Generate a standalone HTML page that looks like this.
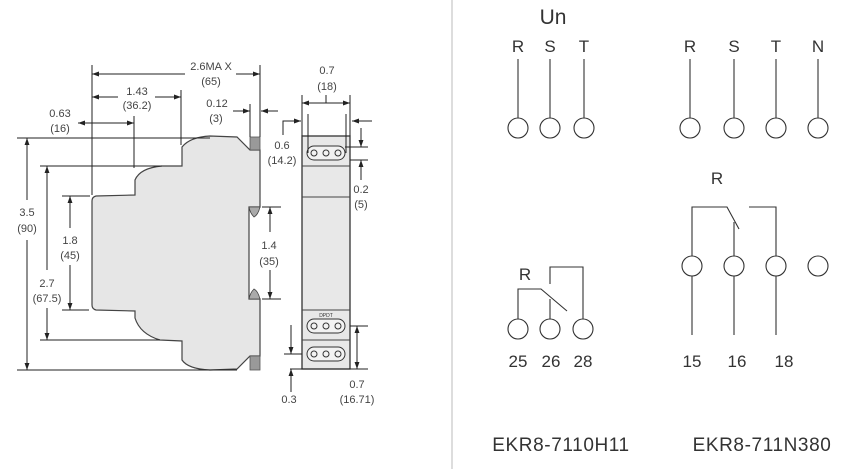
<!DOCTYPE html>
<html><head><style>
html,body{margin:0;padding:0;background:#fff;}
svg{display:block;}
.d{font-family:"Liberation Sans",sans-serif;font-size:11px;fill:#444;text-anchor:middle;}
.b{font-family:"Liberation Sans",sans-serif;fill:#333;text-anchor:middle;}
</style></head><body>
<svg width="858" height="469" viewBox="0 0 858 469" xmlns="http://www.w3.org/2000/svg">
<defs>
<marker id="a" viewBox="0 0 10 10" refX="10" refY="5" markerWidth="7" markerHeight="7" orient="auto-start-reverse"><path d="M0,1.5 L10,5 L0,8.5 z" fill="#222"/></marker>
</defs>
<path d="M96,196 L135,195 L135,180 Q140,168 162,166 L182,166 L182,147 Q190,137 210,136 L237,137 L250,150 L260,150 L260,207 L249,207 L249,299 L260,299 L260,356 L250,356 L237,369 L210,370 Q188,369 182,360 L182,341 L160,340 Q140,334 135,318 L135,311 L96,310 Q92,309 92,305 L92,201 Q92,197 96,196 z" fill="#e6e6e6" stroke="#444" stroke-width="1.2"/>
<rect x="250" y="137" width="10" height="13" fill="#999" stroke="#555" stroke-width="0.8"/>
<rect x="250" y="356" width="10" height="14" fill="#999" stroke="#555" stroke-width="0.8"/>
<path d="M249,207 L260,207 Q258,215 254,217 Q250,213 249,207z" fill="#aaa" stroke="#444" stroke-width="0.8"/>
<path d="M249,299 L260,299 Q258,291 254,289 Q250,293 249,299z" fill="#aaa" stroke="#444" stroke-width="0.8"/>
<g stroke="#222" stroke-width="1" fill="none">
<line x1="92" y1="65" x2="92" y2="195"/>
<line x1="260" y1="65" x2="260" y2="137"/>
<line x1="181" y1="90" x2="181" y2="145"/>
<line x1="134" y1="116" x2="134" y2="168"/>
<line x1="250" y1="104" x2="250" y2="137"/>
<line x1="92" y1="74" x2="185" y2="74" marker-start="url(#a)"/>
<line x1="236" y1="74" x2="260" y2="74" marker-end="url(#a)"/>
<line x1="92" y1="97" x2="118" y2="97" marker-start="url(#a)"/>
<line x1="155" y1="97" x2="181" y2="97" marker-end="url(#a)"/>
<line x1="78" y1="123" x2="134" y2="123" marker-start="url(#a)" marker-end="url(#a)"/>
<line x1="233" y1="111" x2="250" y2="111" marker-end="url(#a)"/>
<line x1="278" y1="111" x2="261" y2="111" marker-end="url(#a)"/>
<line x1="17" y1="138" x2="210" y2="138"/>
<line x1="17" y1="370" x2="237" y2="370"/>
<line x1="40" y1="166" x2="162" y2="166"/>
<line x1="40" y1="340" x2="160" y2="340"/>
<line x1="62" y1="196" x2="90" y2="196"/>
<line x1="62" y1="310" x2="89" y2="310"/>
<line x1="27" y1="138" x2="27" y2="200" marker-start="url(#a)"/>
<line x1="27" y1="240" x2="27" y2="370" marker-end="url(#a)"/>
<line x1="47" y1="166" x2="47" y2="270" marker-start="url(#a)"/>
<line x1="47" y1="308" x2="47" y2="340" marker-end="url(#a)"/>
<line x1="70" y1="196" x2="70" y2="228" marker-start="url(#a)"/>
<line x1="70" y1="265" x2="70" y2="310" marker-end="url(#a)"/>
<line x1="262" y1="207" x2="281" y2="207"/>
<line x1="262" y1="299" x2="281" y2="299"/>
<line x1="270" y1="207" x2="270" y2="232" marker-start="url(#a)"/>
<line x1="270" y1="270" x2="270" y2="299" marker-end="url(#a)"/>
</g>
<text class="d" x="211" y="70">2.6MA X</text><text class="d" x="211" y="85">(65)</text>
<text class="d" x="137" y="95">1.43</text><text class="d" x="137" y="109">(36.2)</text>
<text class="d" x="60" y="117">0.63</text><text class="d" x="60" y="132">(16)</text>
<text class="d" x="217" y="107">0.12</text><text class="d" x="216" y="122">(3)</text>
<text class="d" x="27" y="216">3.5</text><text class="d" x="27" y="232">(90)</text>
<text class="d" x="47" y="287">2.7</text><text class="d" x="47" y="302">(67.5)</text>
<text class="d" x="70" y="244">1.8</text><text class="d" x="70" y="259">(45)</text>
<text class="d" x="269" y="249">1.4</text><text class="d" x="269" y="265">(35)</text>
<rect x="302" y="136" width="48" height="233" fill="#e8e8e8" stroke="#333" stroke-width="1.3"/>
<g stroke="#444" stroke-width="1"><line x1="302" y1="166" x2="350" y2="166"/><line x1="302" y1="197" x2="350" y2="197"/><line x1="302" y1="310" x2="350" y2="310"/><line x1="302" y1="340" x2="350" y2="340"/></g>
<g fill="#f2f2f2" stroke="#333" stroke-width="1">
<rect x="307" y="146" width="38" height="14" rx="7"/><rect x="307" y="319" width="38" height="14" rx="7"/><rect x="307" y="347" width="38" height="14" rx="7"/>
</g>
<g fill="none" stroke="#333" stroke-width="1">
<circle cx="314" cy="153" r="3"/><circle cx="326" cy="153" r="3"/><circle cx="338" cy="153" r="3"/>
<circle cx="314" cy="326" r="3"/><circle cx="326" cy="326" r="3"/><circle cx="338" cy="326" r="3"/>
<circle cx="314" cy="354" r="3"/><circle cx="326" cy="354" r="3"/><circle cx="338" cy="354" r="3"/>
</g>
<text x="326" y="317" font-family="Liberation Sans,sans-serif" font-size="5" text-anchor="middle" fill="#333">DPDT</text>
<g stroke="#222" stroke-width="1" fill="none">
<line x1="302" y1="95" x2="302" y2="136"/><line x1="350" y1="95" x2="350" y2="136"/>
<line x1="308" y1="114" x2="308" y2="153"/><line x1="346" y1="114" x2="346" y2="153"/>
<line x1="302" y1="103" x2="350" y2="103" marker-start="url(#a)" marker-end="url(#a)"/>
<line x1="326" y1="95" x2="326" y2="103"/>
<polyline points="283,135 283,121 301,121" marker-end="url(#a)"/>
<line x1="372" y1="121" x2="352" y2="121" marker-end="url(#a)"/>
<line x1="345" y1="147" x2="368" y2="147"/><line x1="350" y1="160" x2="368" y2="160"/>
<line x1="361" y1="128" x2="361" y2="147" marker-end="url(#a)"/>
<line x1="361" y1="180" x2="361" y2="160" marker-end="url(#a)"/>
<line x1="350" y1="326" x2="368" y2="326"/>
<line x1="290" y1="369" x2="368" y2="369"/>
<line x1="357" y1="326" x2="357" y2="369" marker-start="url(#a)" marker-end="url(#a)"/>
<line x1="284" y1="354" x2="302" y2="354"/>
<line x1="291" y1="325" x2="291" y2="354" marker-end="url(#a)"/>
<line x1="291" y1="392" x2="291" y2="369" marker-end="url(#a)"/>
</g>
<text class="d" x="327" y="74">0.7</text><text class="d" x="327" y="90">(18)</text>
<text class="d" x="282" y="149">0.6</text><text class="d" x="282" y="164">(14.2)</text>
<text class="d" x="361" y="193">0.2</text><text class="d" x="361" y="208">(5)</text>
<text class="d" x="357" y="388">0.7</text><text class="d" x="357" y="403">(16.71)</text>
<text class="d" x="289" y="403">0.3</text>
<line x1="452" y1="0" x2="452" y2="469" stroke="#bbb" stroke-width="1"/>
<text class="b" x="553" y="24" font-size="21">Un</text>
<g class="b" font-size="17">
<text x="518" y="52">R</text><text x="550" y="52">S</text><text x="584" y="52">T</text>
<text x="690" y="52">R</text><text x="734" y="52">S</text><text x="776" y="52">T</text><text x="818" y="52">N</text>
<text x="717" y="184">R</text><text x="525" y="280">R</text>
<text x="518" y="367">25</text><text x="551" y="367">26</text><text x="583" y="367">28</text>
<text x="692" y="367">15</text><text x="737" y="367">16</text><text x="784" y="367">18</text>
</g>
<g stroke="#333" stroke-width="1.1" fill="none">
<line x1="518" y1="59" x2="518" y2="118"/><line x1="550" y1="59" x2="550" y2="118"/><line x1="584" y1="59" x2="584" y2="118"/>
<line x1="690" y1="59" x2="690" y2="118"/><line x1="734" y1="59" x2="734" y2="118"/><line x1="776" y1="59" x2="776" y2="118"/><line x1="818" y1="59" x2="818" y2="118"/>
<circle cx="518" cy="128" r="10"/><circle cx="550" cy="128" r="10"/><circle cx="584" cy="128" r="10"/>
<circle cx="690" cy="128" r="10"/><circle cx="734" cy="128" r="10"/><circle cx="776" cy="128" r="10"/><circle cx="818" cy="128" r="10"/>
<polyline points="518,319 518,289 541,289 567,311"/>
<polyline points="550,284 550,267 583,267 583,319"/>
<line x1="550" y1="299" x2="550" y2="319"/>
<circle cx="518" cy="329" r="10"/><circle cx="550" cy="329" r="10"/><circle cx="583" cy="329" r="10"/>
<polyline points="692,256 692,207 727,207 739,229"/>
<line x1="734" y1="222" x2="734" y2="256"/>
<polyline points="749,207 776,207 776,256"/>
<circle cx="692" cy="266" r="10"/><circle cx="734" cy="266" r="10"/><circle cx="776" cy="266" r="10"/><circle cx="818" cy="266" r="10"/>
<line x1="692" y1="276" x2="692" y2="335"/><line x1="734" y1="276" x2="734" y2="335"/><line x1="776" y1="276" x2="776" y2="335"/>
</g>
<text class="b" x="561" y="451" font-size="19" letter-spacing="0.6">EKR8-7110H11</text>
<text class="b" x="762" y="451" font-size="19" letter-spacing="0.6">EKR8-711N380</text>
</svg>
</body></html>
